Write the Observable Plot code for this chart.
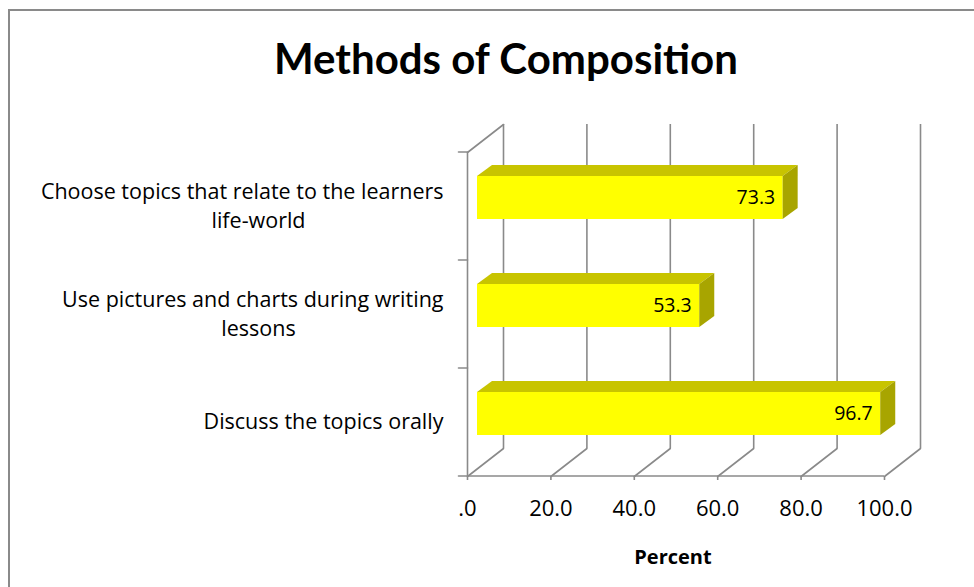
<!DOCTYPE html>
<html><head><meta charset="utf-8">
<script src="https://cdn.jsdelivr.net/npm/d3@7"></script>
<script src="https://cdn.jsdelivr.net/npm/@observablehq/plot@0.6"></script>
<style>
html,body{margin:0;padding:0;background:#fff;overflow:hidden;}
#wrap{position:relative;width:974px;height:587px;overflow:hidden;}
#border{position:absolute;left:8px;top:9px;width:1000px;height:700px;border-left:2px solid #8a8a8a;border-top:2px solid #8a8a8a;pointer-events:none;}
</style></head><body>
<div id="wrap"><div id="chart"></div><div id="border"></div></div>
<script>
const title = "Methods of Composition";
const xLabel = "Percent";
const categories = [
  "Choose topics that relate to the learners life-world",
  "Use pictures and charts during writing lessons",
  "Discuss the topics orally"
];
const values = [73.3, 53.3, 96.7];
const labelLine1 = ["Choose topics that relate to the learners", "Use pictures and charts during writing", "Discuss the topics orally"];
const labelLine2 = ["life-world", "lessons", ""];
const xTicks = [0, 20, 40, 60, 80, 100];
const xTickLabels = [".0", "20.0", "40.0", "60.0", "80.0", "100.0"];

const rows = categories.map((c, i) => ({cat: c, value: values[i], line1: labelLine1[i], line2: labelLine2[i]}));

const GRID = "#8a8a8a";
const FONT = "'Open Sans', Lato, sans-serif";
const TITLE_FONT = "Lato, 'Open Sans', sans-serif";
const lineShape = {draw(ctx, l) { ctx.moveTo(0, 0); ctx.lineTo(0, -l); }};
const DEPTH_DX = 36, DEPTH_DY = 28;
const depthLen = Math.hypot(DEPTH_DX, DEPTH_DY);
const depthAngle = Math.atan2(DEPTH_DX, DEPTH_DY) * 180 / Math.PI;
const BAR_DX = 15, BAR_DY = 11;

function bar3d(index, scales, vals, dims, context, next) {
  const g = next(index, scales, vals, dims, context);
  const ns = "http://www.w3.org/2000/svg";
  for (const r of Array.from(g.querySelectorAll("rect"))) {
    const x = +r.getAttribute("x"), y = +r.getAttribute("y");
    const w = +r.getAttribute("width"), h = +r.getAttribute("height");
    const top = document.createElementNS(ns, "path");
    top.setAttribute("d", `M${x},${y}L${x + w},${y}L${x + w + BAR_DX},${y - BAR_DY}L${x + BAR_DX},${y - BAR_DY}Z`);
    top.setAttribute("fill", "#c8c400");
    const side = document.createElementNS(ns, "path");
    side.setAttribute("d", `M${x + w},${y}L${x + w + BAR_DX},${y - BAR_DY}L${x + w + BAR_DX},${y + h - BAR_DY}L${x + w},${y + h}Z`);
    side.setAttribute("fill", "#a8a500");
    g.appendChild(top);
    g.appendChild(side);
  }
  return g;
}

const chart = Plot.plot({
  width: 974,
  height: 587,
  marginLeft: 467,
  marginRight: 90,
  marginTop: 152,
  marginBottom: 111,
  style: {fontFamily: FONT, fontSize: "21.5px", background: "white", color: "black", overflow: "visible"},
  x: {domain: [0, 100], axis: null},
  y: {domain: categories, paddingInner: 0.6, paddingOuter: 0.3, axis: null},
  marks: [
    // back wall vertical gridlines
    Plot.ruleX(xTicks, {x: d => d, dx: DEPTH_DX, dy: -DEPTH_DY, stroke: GRID, strokeWidth: 1.6}),
    // floor diagonals
    Plot.vector(xTicks, {x: d => d, frameAnchor: "bottom", anchor: "start", length: depthLen, rotate: depthAngle, shape: lineShape, stroke: GRID, strokeWidth: 1.6}),
    // left wall top diagonal
    Plot.vector([0], {x: d => d, frameAnchor: "top", anchor: "start", length: depthLen, rotate: depthAngle, shape: lineShape, stroke: GRID, strokeWidth: 1.6}),
    // left axis line
    Plot.ruleX([0], {x: d => d, stroke: GRID, strokeWidth: 1.6}),
    // bottom axis line
    Plot.ruleY([categories[categories.length - 1]], {y: d => d, dy: 54, x1: 0, x2: 100, stroke: GRID, strokeWidth: 1.6}),
    // left tick marks at category boundaries
    Plot.vector(categories, {x: () => 0, y: d => d, dy: -54, anchor: "start", length: 9, rotate: -90, shape: lineShape, stroke: GRID, strokeWidth: 1.6}),
    Plot.vector([categories[categories.length - 1]], {x: () => 0, y: d => d, dy: 54, anchor: "start", length: 9, rotate: -90, shape: lineShape, stroke: GRID, strokeWidth: 1.6}),
    // x axis ticks and labels
    Plot.axisX(xTicks, {tickSize: 4, tickPadding: 20, tickFormat: d => xTickLabels[xTicks.indexOf(d)], stroke: GRID, strokeWidth: 1.6, fill: "black", fontSize: 22, label: null}),
    // bars
    Plot.barX(rows, {x1: () => 0, x2: "value", y: "cat", dx: 10, dy: -8, fill: "#ffff00", render: bar3d}),
    // value labels
    Plot.text(rows, {x: "value", y: "cat", text: d => d.value.toFixed(1), textAnchor: "end", dx: 2, dy: -8, fontSize: 19.5, fill: "black"}),
    // category labels
    Plot.text(rows.filter(d => d.line2), {x: () => 0, y: "cat", text: "line1", textAnchor: "end", dx: -24, dy: -14, fill: "black"}),
    Plot.text(rows.filter(d => d.line2), {x: () => 0, y: "cat", text: "line2", textAnchor: "middle", dx: -209, dy: 15, fill: "black"}),
    Plot.text(rows.filter(d => !d.line2), {x: () => 0, y: "cat", text: "line1", textAnchor: "end", dx: -24, dy: 0, fill: "black"}),
    // title
    Plot.text([title], {text: d => d, frameAnchor: "top", lineAnchor: "middle", dx: -170, dy: -92, fontSize: 42, fontWeight: "bold", fontFamily: TITLE_FONT, fill: "black"}),
    // x axis label
    Plot.text([xLabel], {text: d => d, frameAnchor: "bottom", lineAnchor: "middle", dx: -3, dy: 81, fontSize: 20, fontWeight: "bold", fill: "black"})
  ]
});
document.getElementById("chart").appendChild(chart);
</script>
</body></html>
